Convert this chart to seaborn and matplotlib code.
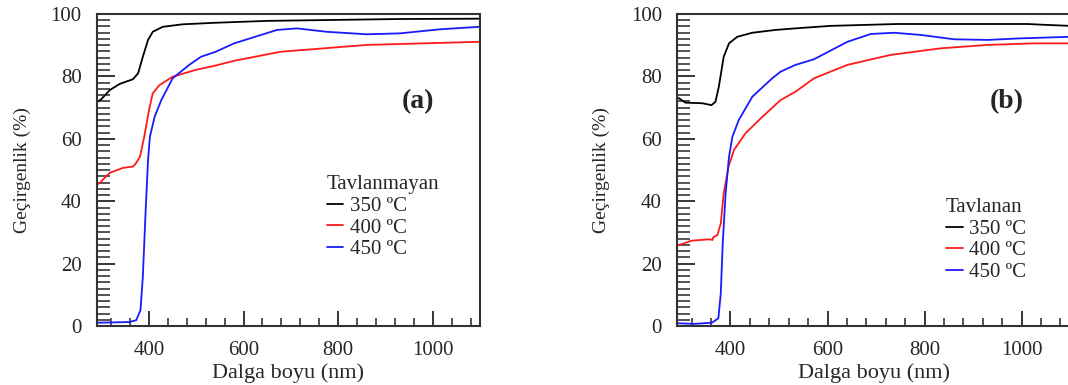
import numpy as np
import pandas as pd
import matplotlib
matplotlib.use("Agg")
import matplotlib.pyplot as plt
import seaborn as sns
from matplotlib.ticker import MultipleLocator

sns.set_style("ticks")
plt.rcParams['font.family'] = ['Liberation Serif', 'DejaVu Serif']

# ---------------- DATA ----------------
labels = ['350 ºC', '400 ºC', '450 ºC']
colors = ['black', '#ff1a1a', '#1a1aff']

# panel (a) - Tavlanmayan
a_350_x = [292, 299, 317, 338, 366, 377, 387, 398, 408, 429, 471, 541, 650, 790, 931, 1099]
a_350_y = [72.0, 72.7, 75.6, 77.6, 79.1, 81.0, 86.3, 91.7, 94.3, 95.9, 96.7, 97.2, 97.8, 98.1, 98.4, 98.5]
a_400_x = [292, 296, 317, 345, 366, 373, 381, 390, 400, 408, 422, 450, 499, 541, 580, 678, 861, 1099]
a_400_y = [45.5, 45.9, 49.1, 50.7, 51.1, 52.3, 54.3, 60.7, 69.2, 74.6, 77.2, 79.9, 82.1, 83.5, 85.0, 87.9, 90.1, 91.1]
a_450_x = [292, 296, 359, 373, 382, 387, 393, 398, 402, 412, 426, 450, 485, 510, 541, 580, 671,
           713, 776, 861, 931, 1015, 1099]
a_450_y = [1.1, 1.1, 1.3, 1.9, 5.1, 15.8, 37.2, 53.2, 60.7, 67.1, 72.4, 79.4, 83.7, 86.3, 87.9, 90.6, 94.9,
           95.4, 94.3, 93.5, 93.8, 95.1, 95.9]

# panel (b) - Tavlanan
b_350_x = [290, 294, 307, 342, 361, 369, 376, 386, 397, 414, 445, 493, 534, 606, 744, 868, 1012, 1053, 1100]
b_350_y = [73.2, 73.0, 71.6, 71.4, 70.8, 71.9, 76.7, 86.3, 90.6, 92.7, 94.0, 94.9, 95.4, 96.2, 96.8, 96.8, 96.8, 96.5, 96.2]
b_400_x = [290, 294, 321, 356, 363, 364, 373, 380, 386, 396, 407, 431, 466, 503, 534, 572, 641, 730,
           833, 930, 1026, 1100]
b_400_y = [25.8, 26.0, 27.4, 27.8, 27.6, 28.4, 29.2, 32.9, 42.5, 51.1, 56.4, 61.8, 67.1, 72.4, 75.1, 79.4, 83.7, 86.9,
           89.0, 90.1, 90.6, 90.6]
b_450_x = [290, 294, 325, 362, 375, 380, 384, 390, 397, 404, 417, 445, 486, 503, 534, 572, 641, 689,
           737, 792, 861, 930, 998, 1100]
b_450_y = [0.9, 0.9, 0.7, 1.1, 2.5, 10.5, 26.5, 42.5, 54.3, 60.7, 66.0, 73.5, 79.4, 81.5, 83.7, 85.5, 91.1, 93.6,
           94.0, 93.3, 91.9, 91.7, 92.2, 92.7]


def make_df(xs, ys):
    parts = []
    for x, y, lab in zip(xs, ys, labels):
        parts.append(pd.DataFrame({'wl': x, 'T': y, 'temp': lab}))
    return pd.concat(parts, ignore_index=True)


def draw_panel(ax, df, tag, title, leg_anchor):
    sns.lineplot(data=df, x='wl', y='T', hue='temp', palette=dict(zip(labels, colors)),
                 estimator=None, sort=False, linewidth=1.3, legend=False, ax=ax)
    ax.set_xlim(290, 1100)
    ax.set_ylim(0, 100)
    ax.xaxis.set_major_locator(MultipleLocator(200))
    ax.xaxis.set_minor_locator(MultipleLocator(40))
    ax.yaxis.set_major_locator(MultipleLocator(20))
    ax.yaxis.set_minor_locator(MultipleLocator(2))
    ax.tick_params(which='major', direction='in', length=11, width=1.3, labelsize=15)
    ax.tick_params(axis='x', which='major', pad=11)
    ax.tick_params(axis='y', which='major', length=13, pad=11)
    ax.tick_params(which='minor', direction='in', length=6, width=1.1)
    ax.tick_params(axis='y', which='minor', length=9)
    for s in ax.spines.values():
        s.set_visible(True)
        s.set_linewidth(1.5)
        s.set_color('#333333')
    ax.set_xlabel('Dalga boyu (nm)', fontsize=16, labelpad=2)
    ax.set_ylabel('Geçirgenlik (%)', fontsize=14)
    ax.yaxis.set_label_coords(-0.172, 0.5)
    ax.text(969, 72, tag, fontsize=20, fontweight='bold', ha='center', va='center')
    ax.legend(ax.get_lines(), labels, title=title, loc='upper left',
              bbox_to_anchor=leg_anchor, frameon=False, fontsize=15,
              title_fontsize=15, alignment='left', handlelength=0.8,
              handletextpad=0.3, labelspacing=0.1, borderpad=0, borderaxespad=0)


fig = plt.figure(figsize=(10.68, 3.85), dpi=100)
ax1 = fig.add_axes([0.0908, 0.153, 0.3586, 0.8106])
ax2 = fig.add_axes([0.634, 0.153, 0.368, 0.8106])

draw_panel(ax1, make_df([a_350_x, a_400_x, a_450_x], [a_350_y, a_400_y, a_450_y]),
           '(a)', 'Tavlanmayan', (0.60, 0.483))
draw_panel(ax2, make_df([b_350_x, b_400_x, b_450_x], [b_350_y, b_400_y, b_450_y]),
           '(b)', 'Tavlanan', (0.684, 0.41))

fig.savefig('out.png', dpi=100)
